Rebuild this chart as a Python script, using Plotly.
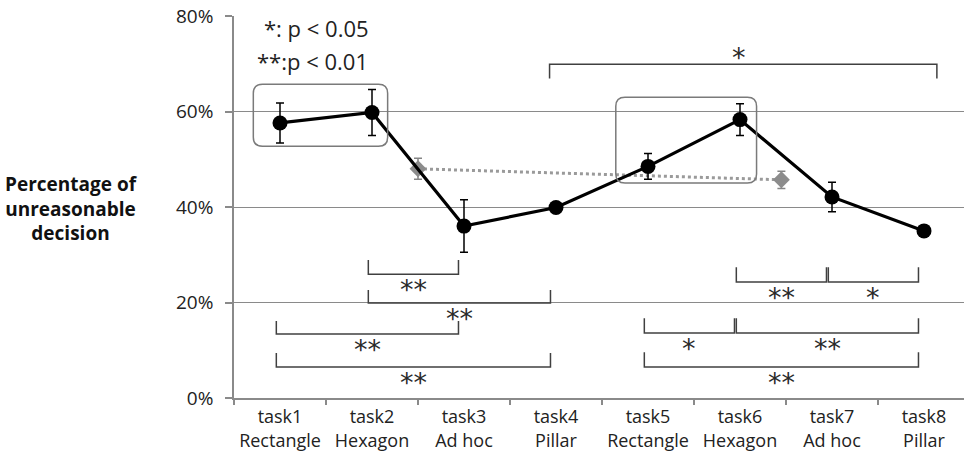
import plotly.graph_objects as go

# ---- data ----
tasks = ["task1", "task2", "task3", "task4", "task5", "task6", "task7", "task8"]
shape_names = ["Rectangle", "Hexagon", "Ad hoc", "Pillar", "Rectangle", "Hexagon", "Ad hoc", "Pillar"]
values = [57.6, 59.8, 36.0, 39.9, 48.5, 58.3, 42.1, 35.0]
errors = [4.2, 4.8, 5.5, 0.8, 2.7, 3.3, 3.1, 0.5]

gray_pos = [1.5, 5.45]
gray_values = [48.0, 45.7]
gray_errors = [2.2, 1.8]

# significance comparisons (task index a, task index b, label)
comparisons = [
    (1, 2, "**"), (1, 3, "**"), (0, 2, "**"), (0, 3, "**"),
    (5, 6, "**"), (6, 7, "*"), (4, 5, "*"), (5, 7, "**"), (4, 7, "**"),
]
top_comparison = (3, 7, "*")
legend_lines = ["*: p < 0.05", "**:p < 0.01"]
y_ticks = [0, 20, 40, 60, 80]

# ---- layout helpers (positions only) ----
bracket_levels = [(28.9, 25.9), (22.6, 19.9), (16.1, 13.4), (9.4, 6.5),
                  (27.4, 24.3), (27.4, 24.3), (16.7, 13.6), (16.7, 13.6), (9.6, 6.5)]

FONT = "Open Sans, Carlito, Calibri, sans-serif"
LINE_C = "#404040"
L, R, T, B = 234, 0, 16, 64
W, H = 964, 462
plot_w = W - L - R
plot_h = H - T - B

x_idx = list(range(len(tasks)))
ticktext = [f"{t}<br>{s}" for t, s in zip(tasks, shape_names)]

fig = go.Figure()

fig.add_trace(go.Scatter(
    x=gray_pos, y=gray_values, mode="lines+markers",
    line=dict(color="#9a9a9a", width=3, dash="dot"),
    marker=dict(symbol="diamond", size=13, color="#8c8c8c"),
    error_y=dict(type="data", array=gray_errors, color="#858585", thickness=1.5, width=4),
    showlegend=False, hoverinfo="skip",
))

fig.add_trace(go.Scatter(
    x=x_idx, y=values, mode="lines+markers",
    line=dict(color="black", width=3.2),
    marker=dict(symbol="circle", size=15, color="black"),
    error_y=dict(type="data", array=errors, color="black", thickness=1.5, width=4),
    showlegend=False, hoverinfo="skip",
))

shapes = []
annotations = []
STAR_FONT = dict(size=27, color="#2a2a2a", family="DejaVu Sans")


def bracket_up(a, b, ytop, ybot, label, star_y):
    x0 = a - 0.04
    x1 = b - 0.06
    shapes.append(dict(type="path", xref="x", yref="y",
                       path=f"M {x0},{ytop} L {x0},{ybot} L {x1},{ybot} L {x1},{ytop}",
                       line=dict(color=LINE_C, width=1.5)))
    annotations.append(dict(x=(x0 + x1) / 2, y=star_y, xref="x", yref="y", text=label,
                            showarrow=False, font=STAR_FONT, yanchor="middle", yshift=-6))


for (a, b, lab), (yt, yb) in zip(comparisons, bracket_levels):
    bracket_up(a, b, yt, yb, lab, yb - 2.0)

# top bracket (opening downward)
ta, tb, tlab = top_comparison
tx0, tx1 = ta - 0.07, tb + 0.14
shapes.append(dict(type="path", xref="x", yref="y",
                   path=f"M {tx0},66.9 L {tx0},69.9 L {tx1},69.9 L {tx1},66.9",
                   line=dict(color=LINE_C, width=1.5)))
annotations.append(dict(x=(tx0 + tx1) / 2 - 0.05, y=72.5, xref="x", yref="y", text=tlab,
                        showarrow=False, font=STAR_FONT, yanchor="middle", yshift=-6))


def rrect(x0, x1, y0, y1, rx, ry):
    return (f"M {x0+rx},{y1} L {x1-rx},{y1} Q {x1},{y1} {x1},{y1-ry} "
            f"L {x1},{y0+ry} Q {x1},{y0} {x1-rx},{y0} L {x0+rx},{y0} "
            f"Q {x0},{y0} {x0},{y0+ry} L {x0},{y1-ry} Q {x0},{y1} {x0+rx},{y1} Z")


rx, ry = 0.1, 1.9
shapes.append(dict(type="path", xref="x", yref="y", path=rrect(-0.29, 1.17, 52.7, 65.7, rx, ry),
                   line=dict(color="#7a7a7a", width=1.5)))
shapes.append(dict(type="path", xref="x", yref="y", path=rrect(3.65, 5.18, 45.0, 63.0, rx, ry),
                   line=dict(color="#7a7a7a", width=1.5)))

# legend text
annotations.append(dict(x=-0.2, y=77.4, xref="x", yref="y", text=legend_lines[0], showarrow=False,
                        xanchor="left", yanchor="middle", font=dict(size=22, color="#222", family=FONT)))
annotations.append(dict(x=-0.27, y=70.5, xref="x", yref="y", text=legend_lines[1], showarrow=False,
                        xanchor="left", yanchor="middle", font=dict(size=22, color="#222", family=FONT)))

# y-axis title (pixel position converted to paper coords)
annotations.append(dict(x=(71 - L) / plot_w, y=(H - B - 209) / plot_h, xref="paper", yref="paper",
                        text="Percentage of<br>unreasonable<br>decision",
                        showarrow=False, xanchor="center", yanchor="middle",
                        font=dict(size=19, color="#111", family=FONT, weight="bold")))

fig.update_layout(
    width=W, height=H,
    margin=dict(l=L, r=R, t=T, b=B),
    paper_bgcolor="white", plot_bgcolor="white",
    shapes=shapes, annotations=annotations,
    font=dict(family=FONT, color="#222"),
)

fig.update_xaxes(
    range=[-0.5, -0.5 + plot_w / 92.0],
    tickmode="array", tickvals=x_idx, ticktext=ticktext,
    ticks="", showgrid=False, zeroline=False,
    showline=True, linecolor="#8a8a8a", linewidth=1.5,
    tickfont=dict(size=18, color="#222", family=FONT),
    ticklabelstandoff=2,
    minor=dict(tickmode="array", tickvals=[i - 0.5 for i in range(9)], ticks="outside",
               ticklen=5, tickcolor="#8a8a8a", tickwidth=1.5, showgrid=False),
)
fig.update_yaxes(
    range=[0, 80], tickmode="array", tickvals=y_ticks, ticktext=[f"{v}%" for v in y_ticks],
    showgrid=True, gridcolor="#8a8a8a", gridwidth=1.2, zeroline=False,
    showline=True, linecolor="#8a8a8a", linewidth=1.5,
    ticks="outside", ticklen=7, tickcolor="#8a8a8a", tickwidth=1.5,
    tickfont=dict(size=19, color="#222", family=FONT),
    ticklabelstandoff=8,
)

fig.write_html("out.html", config={"displayModeBar": False},
               post_script="document.body.style.margin='0';document.body.style.padding='0';")
